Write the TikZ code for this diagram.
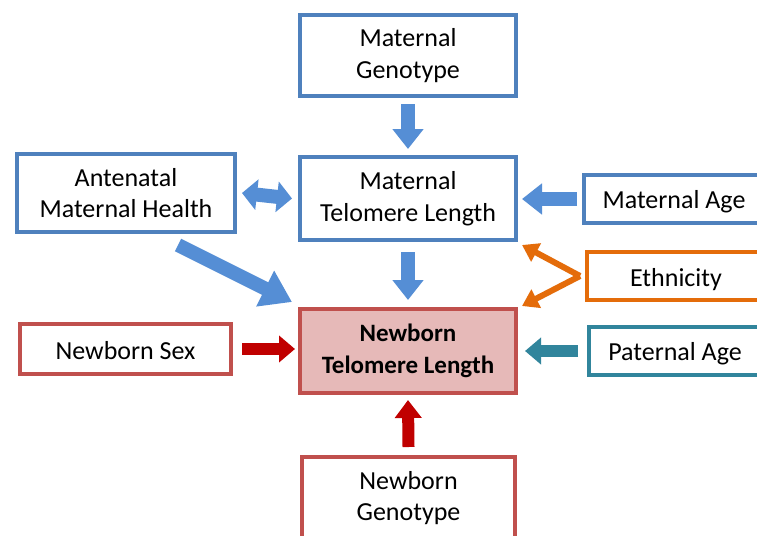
\documentclass[tikz,border=0pt]{standalone}
\usepackage{fontspec}
\setmainfont{Carlito}
\usetikzlibrary{arrows.meta}
\definecolor{bborder}{HTML}{4F81BD}
\definecolor{barr}{HTML}{558ED5}
\definecolor{rborder}{HTML}{C0504D}
\definecolor{rfill}{HTML}{E6B9B8}
\definecolor{rarr}{HTML}{C00000}
\definecolor{orng}{HTML}{E46C0A}
\definecolor{tealc}{HTML}{31859C}
\newcommand{\lowertext}[2]{\raisebox{-#1}[\height][\depth]{#2}}
\tikzset{
  box/.style={draw, line width=4pt, fill=white, align=center, inner sep=0pt,
    font=\fontsize{26}{31.5}\selectfont},
  bluebox/.style={box, draw=bborder},
  redbox/.style={box, draw=rborder},
  bigarrow/.style={line width=14pt, -{Triangle[length=20pt,width=30pt]}},
  redarrow/.style={line width=12pt, draw=rarr, -{Triangle[length=16pt,width=26pt]}},
  thinarrow/.style={line width=6pt, draw=orng, -{Triangle[length=16pt,width=20pt]}},
}
\begin{document}
\begin{tikzpicture}[x=1pt,y=-1pt]
\clip (0,0) rectangle (757,535);
\fill[white] (0,0) rectangle (757,535);

\node[bluebox, minimum width=216pt, minimum height=81pt] (mg) at (408,55.5) {Maternal\\Genotype};
\node[bluebox, minimum width=216pt, minimum height=83pt] (mtl) at (408,198.5) {Maternal\\Telomere Length};
\node[bluebox, minimum width=218pt, minimum height=78pt] (amh) at (126,193) {Antenatal\\Maternal Health};
\node[bluebox, minimum width=180pt, minimum height=48pt] (ma) at (674,199) {\lowertext{3pt}{Maternal Age}};
\node[box, draw=orng, minimum width=178pt, minimum height=48pt] (eth) at (676,276) {\lowertext{4pt}{Ethnicity}};
\node[box, draw=tealc, minimum width=172pt, minimum height=48pt] (pa) at (675,351) {\lowertext{3pt}{Paternal Age}};
\node[redbox, fill=rfill, minimum width=216pt, minimum height=84pt, font=\fontsize{25}{31.5}\selectfont\bfseries] (ntl) at (408,351) {Newborn\\Telomere Length};
\node[redbox, minimum width=211pt, minimum height=50pt] (ns) at (125.5,349) {\lowertext{2pt}{Newborn Sex}};
\node[redbox, minimum width=213pt, minimum height=82pt] (ng) at (408.5,498) {Newborn\\Genotype};

% blue arrows
\draw[bigarrow, draw=barr] ([yshift=-6pt]mg.south) -- ([yshift=6pt]mtl.north);
\draw[bigarrow, draw=barr] ([yshift=-10pt]mtl.south) -- ([yshift=7pt]ntl.north);
\draw[line width=14pt, draw=barr, {Triangle[length=15pt,width=30pt]}-{Triangle[length=15pt,width=30pt]}]
  ([xshift=5pt]amh.east) -- ([xshift=-6pt]mtl.west);
\draw[bigarrow, draw=barr] ([xshift=-5pt]ma.west) -- ([xshift=4pt]mtl.east |- ma.west);
\draw[line width=14pt, draw=barr, -{Triangle[length=30pt,width=38pt]}]
  ([xshift=-59pt,yshift=-11pt]amh.south east) -- ([xshift=-6pt,yshift=5pt]ntl.north west);

% orange arrows
\draw[thinarrow] ([xshift=-5pt]eth.west) -- ([xshift=4pt,yshift=-3pt]mtl.south east);
\draw[thinarrow] ([xshift=-5pt]eth.west) -- ([xshift=4pt,yshift=1pt]ntl.north east);

% red / teal arrows
\draw[redarrow] ([xshift=9pt]ns.east) -- ([xshift=-3pt]ntl.west |- ns.east);
\draw[redarrow, draw=tealc] ([xshift=-9pt]pa.west) -- ([xshift=7pt]ntl.east |- pa.west);
\draw[redarrow, -{Triangle[length=18pt,width=26pt]}] ([yshift=8pt]ng.north) -- ([yshift=-5pt]ntl.south);
\end{tikzpicture}
\end{document}
